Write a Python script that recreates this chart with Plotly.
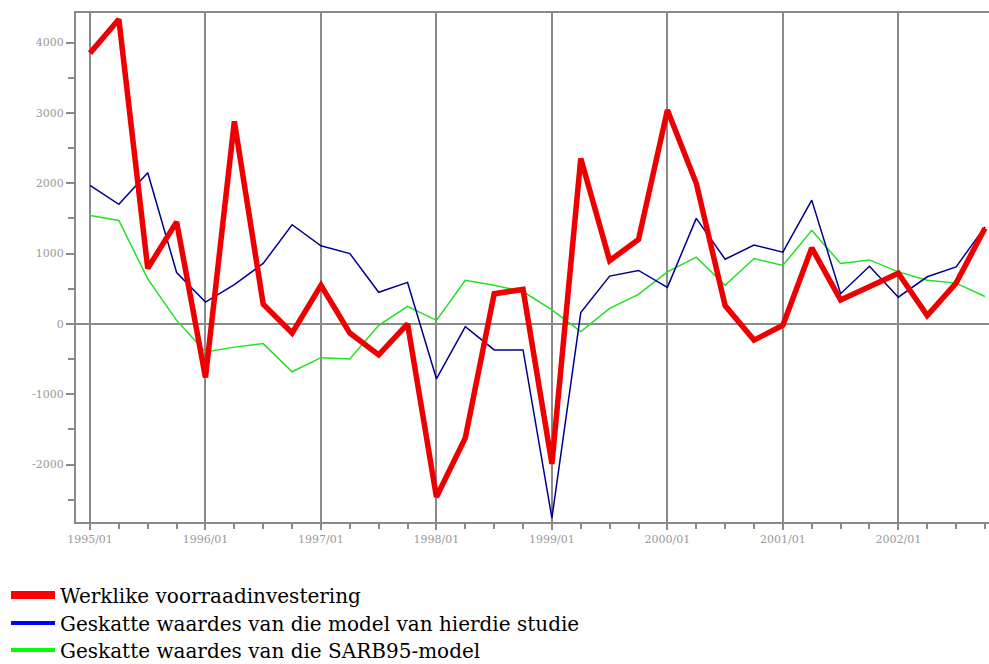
import plotly.graph_objects as go

quarters = [f"{y}/0{q}" for y in range(1995, 2003) for q in range(1, 5)]
year_labels = ["1995/01", "1996/01", "1997/01", "1998/01", "1999/01", "2000/01", "2001/01", "2002/01"]

werklike = [3850, 4330, 790, 1450, -760, 2880, 280, -130,
            550, -130, -440, 0, -2460, -1620, 430, 490,
            -1990, 2350, 900, 1200, 3040, 2000, 260, -230,
            -20, 1080, 340, 540, 720, 120, 580, 1360]
hierdie = [1970, 1700, 2150, 730, 310, 560, 860, 1410,
           1110, 1000, 450, 590, -780, -40, -370, -370,
           -2760, 160, 680, 760, 520, 1500, 920, 1120,
           1020, 1760, 430, 820, 380, 670, 810, 1380]
sarb95 = [1540, 1470, 640, 50, -400, -330, -280, -680,
          -480, -500, -20, 250, 50, 620, 550, 460,
          200, -110, 220, 420, 740, 950, 550, 930,
          830, 1330, 860, 910, 740, 620, 580, 390]

names = ["Werklike voorraadinvestering",
         "Geskatte waardes van die model van hierdie studie",
         "Geskatte waardes van die SARB95-model"]

SERIF = "DejaVu Serif, serif"
x = list(range(len(quarters)))
fig = go.Figure()
fig.add_trace(go.Scatter(x=x, y=sarb95, mode="lines", line=dict(color="#22e022", width=1.5), showlegend=False))
fig.add_trace(go.Scatter(x=x, y=hierdie, mode="lines", line=dict(color="#000090", width=1.5), showlegend=False))
fig.add_trace(go.Scatter(x=x, y=werklike, mode="lines", line=dict(color="#ee0000", width=5.5), showlegend=False))

# legend-only entries, one legend per row
legend_ids = ["legend", "legend2", "legend3"]
row_centers = [595, 623, 650]
for nm, col, w, lid in zip(names, ["#ff0000", "#0000ff", "#00ff00"], [8, 4, 4], legend_ids):
    fig.add_trace(go.Scatter(x=[None], y=[None], mode="lines", name=nm,
                             line=dict(color=col, width=w), legend=lid))

for lid, yc in zip(legend_ids, row_centers):
    fig.update_layout({lid: dict(x=6 / 989, y=1 - yc / 664, xref="container", yref="container",
                                 xanchor="left", yanchor="middle",
                                 font=dict(size=20, color="black", family=SERIF),
                                 itemwidth=44, bgcolor="rgba(0,0,0,0)", borderwidth=0)})

fig.update_layout(
    width=989, height=664,
    margin=dict(l=76, r=0, t=13, b=142, autoexpand=False),
    plot_bgcolor="white", paper_bgcolor="white",
    font=dict(family=SERIF),
    xaxis=dict(range=[-0.485, 31.14], tickvals=[0, 4, 8, 12, 16, 20, 24, 28], ticktext=year_labels,
               showgrid=True, gridcolor="#8a8a8a", gridwidth=2, zeroline=False,
               showline=True, linecolor="#8a8a8a", linewidth=2, mirror=True,
               ticks="outside", ticklen=6, tickcolor="#8a8a8a", tickwidth=1.5,
               tickfont=dict(size=11, color="#9a9a9a", family=SERIF),
               minor=dict(dtick=1, tick0=0, ticks="outside", ticklen=5, tickcolor="#8a8a8a", showgrid=False)),
    yaxis=dict(range=[-2816, 4420], tickvals=[-2000, -1000, 0, 1000, 2000, 3000, 4000],
               ticktext=["-2000", "-1000", "0", "1000", "2000", "3000", "4000"],
               showgrid=False, zeroline=True, zerolinecolor="#8a8a8a", zerolinewidth=2,
               showline=True, linecolor="#8a8a8a", linewidth=2,
               ticks="outside", ticklen=8, tickcolor="#8a8a8a", tickwidth=1.5,
               tickfont=dict(size=11, color="#9a9a9a", family=SERIF),
               minor=dict(dtick=500, tick0=0, ticks="outside", ticklen=6, tickcolor="#8a8a8a")),
)
fig.write_html("out.html")
